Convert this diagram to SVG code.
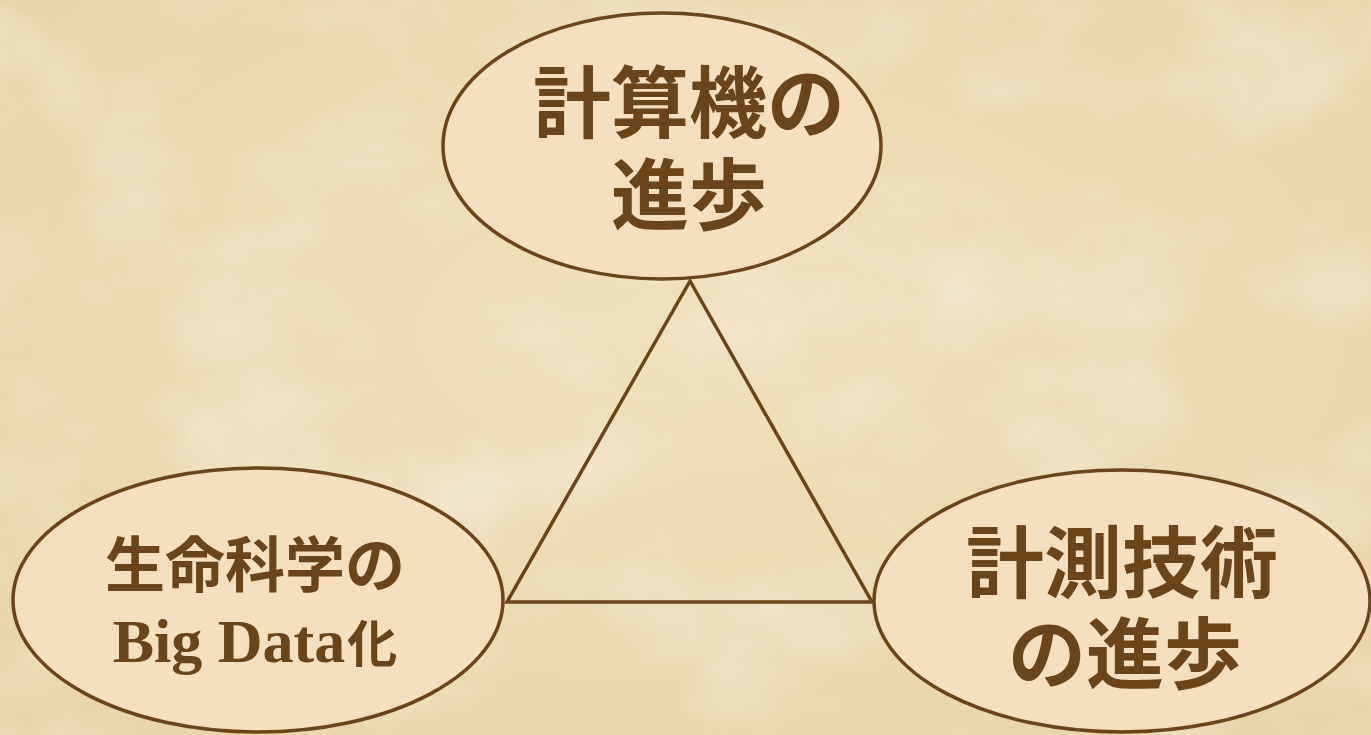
<svg xmlns="http://www.w3.org/2000/svg" width="1371" height="735" viewBox="0 0 1371 735">
  <style>
    .node ellipse { fill: #f6dfbf; stroke: #6b4419; stroke-width: 3.5; }
    .jp { font-family: "Noto Sans CJK JP", "Noto Sans CJK SC", sans-serif; font-weight: 700; fill: #6b4419; text-anchor: middle; }
    .serif { font-family: "Liberation Serif", "Noto Sans CJK JP", serif; font-weight: 700; fill: #6b4419; }
    .edge { stroke: #6b4419; stroke-width: 3.5; fill: none; stroke-linejoin: miter; }
  </style>
  <defs>
    <radialGradient id="bg" cx="50%" cy="45%" r="75%">
      <stop offset="0" stop-color="#f1e0bd"/>
      <stop offset="1" stop-color="#e9d3a8"/>
    </radialGradient>
    <filter id="fibers" x="0" y="0" width="100%" height="100%">
      <feTurbulence type="fractalNoise" baseFrequency="0.006 0.009" numOctaves="4" seed="7" result="n"/>
      <feColorMatrix in="n" type="matrix" values="0 0 0 0 1  0 0 0 0 1  0 0 0 0 1  0 0 0 -2.2 1.25" />
    </filter>
  </defs>
  <rect width="1371" height="735" fill="url(#bg)"/>
  <rect width="1371" height="735" filter="url(#fibers)" opacity="0.3"/>

  <g id="connectors">
    <polygon class="edge" points="690,281 507,602 872,602"/>
  </g>

  <g id="node-computer" class="node">
    <ellipse cx="662" cy="146" rx="219" ry="133"/>
    <text class="jp" font-size="78"><tspan x="689" y="132">計算機の</tspan><tspan x="689" y="224">進歩</tspan></text>
  </g>

  <g id="node-lifescience" class="node">
    <ellipse cx="258" cy="600" rx="245" ry="132"/>
    <text class="jp" font-size="60"><tspan x="255" y="587">生命科学の</tspan><tspan x="255" y="662"><tspan class="serif" font-size="62">Big Data</tspan><tspan font-size="50" dx="2">化</tspan></tspan></text>
  </g>

  <g id="node-measurement" class="node">
    <ellipse cx="1122" cy="601" rx="248" ry="131"/>
    <text class="jp" font-size="78"><tspan x="1122" y="592">計測技術</tspan><tspan x="1125" y="683">の進歩</tspan></text>
  </g>
</svg>
